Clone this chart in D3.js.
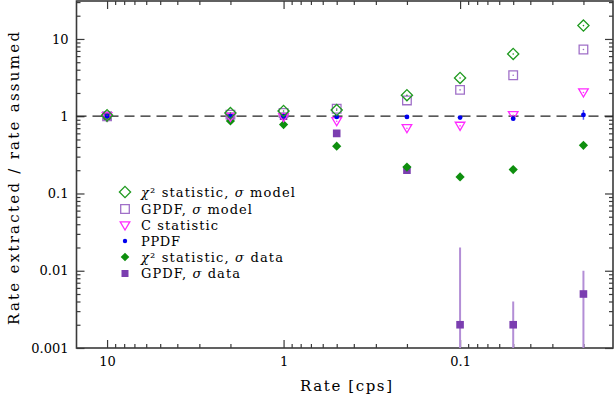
<!DOCTYPE html>
<html>
<head>
<meta charset="utf-8">
<script src="https://cdn.jsdelivr.net/npm/d3@7"></script>
<style>
  html, body { margin: 0; padding: 0; background: #fff; }
  svg { display: block; font-family: "DejaVu Serif", serif; }
</style>
</head>
<body>
<div id="chart"></div>
<script>
// Rates simulated (cps) and ratio extracted / assumed per method
const rates = [10, 2, 1, 0.5, 0.2, 0.1, 0.05, 0.02];
const chi2Model = [1.03, 1.1, 1.17, 1.2, 1.87, 3.13, 6.4, 14.9];
const gpdfModel = [1.0, 1.05, 1.1, 1.25, 1.6, 2.19, 3.39, 7.3];
const cStat = [1.0, 0.98, 0.97, 0.86, 0.7, 0.75, 1.03, 2.03];
const ppdf = [1.0, 1.0, 1.0, 0.98, 0.98, 0.96, 0.93, 1.04];
const ppdfLo = [1.0, 1.0, 1.0, 0.98, 0.98, 0.96, 0.93, 0.9];
const ppdfHi = [1.0, 1.0, 1.0, 0.98, 0.98, 0.96, 0.93, 1.2];
const chi2Data = [0.95, 0.87, 0.78, 0.41, 0.22, 0.164, 0.204, 0.42];
const gpdfData = [1.0, 1.0, 1.0, 0.6, 0.2, 0.002, 0.002, 0.005];
const gpdfDataLo = [1.0, 1.0, 1.0, 0.6, 0.18, 0.0001, 0.0001, 0.0001];
const gpdfDataHi = [1.0, 1.0, 1.0, 0.6, 0.23, 0.02, 0.004, 0.01];

const xMajor = [10, 1, 0.1];
const yMajor = [10, 1, 0.1, 0.01, 0.001];
const yLabels = ['10', '1', '0.1', '0.01', '0.001'];
const xLabels = ['10', '1', '0.1'];

const width = 616, height = 395;
const margin = { top: 1, right: 3, bottom: 47, left: 76.5 };
const x0 = margin.left, x1 = width - margin.right;
const y0 = height - margin.bottom, y1 = margin.top;

const svg = d3.select('#chart')
    .append('svg')
    .attr('width', width)
    .attr('height', height);

const x = d3.scaleLog().domain([14.9, 0.0136]).range([x0, x1]);
const y = d3.scaleLog().domain([0.001, 31]).range([y0, y1]);

svg.append('clipPath').attr('id', 'plotclip')
    .append('rect')
    .attr('x', x0).attr('y', y1)
    .attr('width', x1 - x0).attr('height', y0 - y1);

const xMinor = x.ticks().filter(t => !xMajor.includes(+t.toPrecision(6)));
const yMinor = y.ticks().filter(t => !yMajor.includes(+t.toPrecision(6)));

const axisColor = '#3a3a3a';

function drawAxis(axis, tx, ty, labelled) {
    const g = svg.append('g')
        .attr('transform', `translate(${tx},${ty})`)
        .call(axis);
    g.select('.domain').remove();
    g.selectAll('.tick line').attr('stroke', axisColor).attr('stroke-width', 1.2);
    if (labelled) {
        g.selectAll('.tick text')
            .attr('font-family', '"DejaVu Serif", serif')
            .attr('font-size', '13px')
            .attr('fill', '#000');
    }
    return g;
}

// Bottom
drawAxis(d3.axisBottom(x).tickValues(xMajor).tickSize(-8).tickPadding(9)
    .tickFormat((d, i) => xLabels[i]), 0, y0, true);
drawAxis(d3.axisBottom(x).tickValues(xMinor).tickSize(-4).tickFormat(''), 0, y0, false);
// Top
drawAxis(d3.axisTop(x).tickValues(xMajor).tickSize(-8).tickFormat(''), 0, y1, false);
drawAxis(d3.axisTop(x).tickValues(xMinor).tickSize(-4).tickFormat(''), 0, y1, false);
// Left
drawAxis(d3.axisLeft(y).tickValues(yMajor).tickSize(-8).tickPadding(8)
    .tickFormat((d, i) => yLabels[i]), x0, 0, true);
drawAxis(d3.axisLeft(y).tickValues(yMinor).tickSize(-4).tickFormat(''), x0, 0, false);
// Right
drawAxis(d3.axisRight(y).tickValues(yMajor).tickSize(-8).tickFormat(''), x1, 0, false);
drawAxis(d3.axisRight(y).tickValues(yMinor).tickSize(-4).tickFormat(''), x1, 0, false);

// Frame
svg.append('rect')
    .attr('x', x0).attr('y', y1)
    .attr('width', x1 - x0).attr('height', y0 - y1)
    .attr('fill', 'none')
    .attr('stroke', axisColor)
    .attr('stroke-width', 1.6);

// Reference line at ratio 1
svg.append('line')
    .attr('x1', x0).attr('x2', x1)
    .attr('y1', y(1)).attr('y2', y(1))
    .attr('stroke', '#222')
    .attr('stroke-width', 1.2)
    .attr('stroke-dasharray', '10,6');

const plot = svg.append('g').attr('clip-path', 'url(#plotclip)');

const symDiamond = d3.symbol().type(d3.symbolSquare);
const colors = {
    chi2Model: '#1f9a1f',
    gpdfModel: '#a070c8',
    cStat: '#ff2bff',
    ppdf: '#0000ee',
    chi2Data: '#0e8f0e',
    gpdfData: '#7b3eb0'
};

// Error bars for GPDF sigma data
plot.selectAll('.err-gpdf')
    .data(rates.map((r, i) => ({ r, lo: gpdfDataLo[i], hi: gpdfDataHi[i] })))
    .join('line')
    .attr('x1', d => x(d.r)).attr('x2', d => x(d.r))
    .attr('y1', d => y(d.lo)).attr('y2', d => y(d.hi))
    .attr('stroke', '#b38ed6')
    .attr('stroke-width', 2);

plot.selectAll('.err-ppdf')
    .data(rates.map((r, i) => ({ r, lo: ppdfLo[i], hi: ppdfHi[i] })))
    .join('line')
    .attr('x1', d => x(d.r)).attr('x2', d => x(d.r))
    .attr('y1', d => y(d.lo)).attr('y2', d => y(d.hi))
    .attr('stroke', '#5a5aff')
    .attr('stroke-width', 1.5);

function diamondPath(s) {
    return `M0,${-s}L${s},0L0,${s}L${-s},0Z`;
}
function squarePath(s) {
    return `M${-s},${-s}H${s}V${s}H${-s}Z`;
}
function triPath(s) {
    return `M${-s},${-s * 0.75}H${s}L0,${s * 0.95}Z`;
}

function series(vals, path, fill, stroke, sw) {
    plot.append('g').selectAll('path')
        .data(rates.map((r, i) => ({ r, v: vals[i] })))
        .join('path')
        .attr('transform', d => `translate(${x(d.r)},${y(d.v)})`)
        .attr('d', path)
        .attr('fill', fill)
        .attr('stroke', stroke)
        .attr('stroke-width', sw);
}
function centreDots(vals, color) {
    plot.append('g').selectAll('circle')
        .data(rates.map((r, i) => ({ r, v: vals[i] })))
        .join('circle')
        .attr('cx', d => x(d.r)).attr('cy', d => y(d.v))
        .attr('r', 0.8)
        .attr('fill', color);
}

// Order: filled ones under, open ones on top
series(gpdfData, squarePath(3.8), colors.gpdfData, 'none', 0);
series(chi2Data, diamondPath(4.6), colors.chi2Data, 'none', 0);
series(gpdfModel, squarePath(4.3), 'none', colors.gpdfModel, 1.3);
centreDots(gpdfModel, colors.gpdfModel);
series(cStat, triPath(4.8), 'none', colors.cStat, 1.3);
centreDots(cStat, colors.cStat);
plot.append('g').selectAll('circle')
    .data(rates.map((r, i) => ({ r, v: ppdf[i] })))
    .join('circle')
    .attr('cx', d => x(d.r)).attr('cy', d => y(d.v))
    .attr('r', 2.4)
    .attr('fill', colors.ppdf);
series(chi2Model, diamondPath(5.6), 'none', colors.chi2Model, 1.3);
centreDots(chi2Model, colors.chi2Model);

// Legend
const legendItems = [
    { parts: [['χ', true], ['² statistic, ', false], ['σ', true], [' model', false]], len: 154, kind: 'chi2Model' },
    { parts: [['GPDF, ', false], ['σ', true], [' model', false]], len: 111, kind: 'gpdfModel' },
    { parts: [['C statistic', false]], len: 77, kind: 'cStat' },
    { parts: [['PPDF', false]], len: 39, kind: 'ppdf' },
    { parts: [['χ', true], ['² statistic, ', false], ['σ', true], [' data', false]], len: 142, kind: 'chi2Data' },
    { parts: [['GPDF, ', false], ['σ', true], [' data', false]], len: 99, kind: 'gpdfData' }
];
const legendY = [192, 209, 225.5, 241, 257, 273.5];

legendItems.forEach((item, i) => {
    const cy = legendY[i];
    const m = svg.append('g').attr('transform', `translate(125,${cy})`);
    if (item.kind === 'chi2Model') {
        m.append('path').attr('d', diamondPath(5.6)).attr('fill', 'none')
            .attr('stroke', colors.chi2Model).attr('stroke-width', 1.3);
    } else if (item.kind === 'gpdfModel') {
        m.append('path').attr('d', squarePath(4.3)).attr('fill', 'none')
            .attr('stroke', colors.gpdfModel).attr('stroke-width', 1.3);
    } else if (item.kind === 'cStat') {
        m.append('path').attr('d', triPath(4.8)).attr('fill', 'none')
            .attr('stroke', colors.cStat).attr('stroke-width', 1.3);
    } else if (item.kind === 'ppdf') {
        m.append('circle').attr('r', 2.2).attr('fill', colors.ppdf);
    } else if (item.kind === 'chi2Data') {
        m.append('path').attr('d', diamondPath(4.3)).attr('fill', colors.chi2Data);
    } else {
        m.append('path').attr('d', squarePath(3.5)).attr('fill', colors.gpdfData);
    }

    const t = svg.append('text')
        .attr('x', 141)
        .attr('y', cy + 4.5)
        .attr('font-size', '13px')
        .attr('fill', '#000')
        .attr('textLength', item.len)
        .attr('lengthAdjust', 'spacing');
    item.parts.forEach(p => {
        t.append('tspan')
            .attr('font-style', p[1] ? 'italic' : 'normal')
            .text(p[0]);
    });
});

// Axis titles
svg.append('text')
    .attr('x', 300)
    .attr('y', 391)
    .attr('font-size', '15px')
    .attr('fill', '#000')
    .attr('textLength', 92)
    .attr('lengthAdjust', 'spacing')
    .text('Rate [cps]');

svg.append('text')
    .attr('transform', 'translate(19,325) rotate(-90)')
    .attr('x', 0)
    .attr('y', 0)
    .attr('font-size', '15px')
    .attr('fill', '#000')
    .attr('textLength', 293)
    .attr('lengthAdjust', 'spacing')
    .text('Rate extracted / rate assumed');
</script>
</body>
</html>
